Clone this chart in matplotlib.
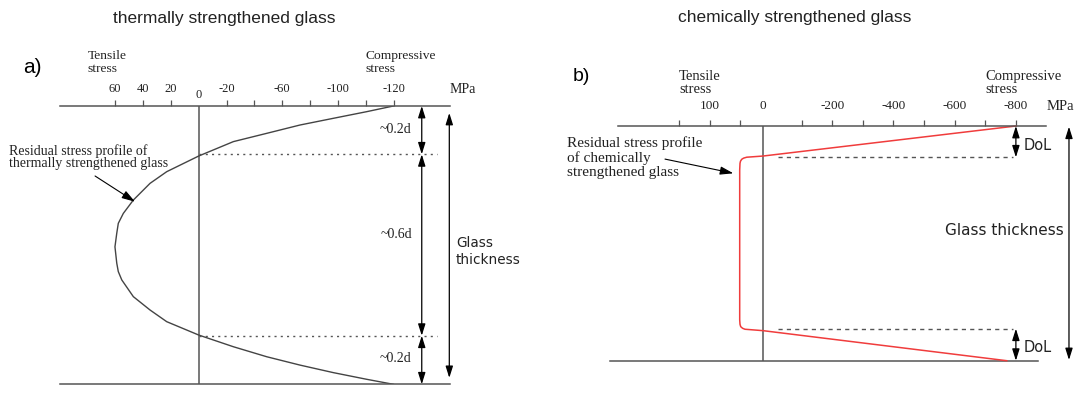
import matplotlib.pyplot as plt

# ---- data (stress in MPa on x, depth as fraction of thickness on y) ----

# a) thermally strengthened glass, parabolic profile
thermal_stress = [-139.9, -120.7, -96.7, -72.8, -48.9, -24.9, 0.0, 23.0, 35.0, 47.0, 54.2,
                  57.8, 58.9, 60.2, 58.9, 57.8, 55.3, 47.0, 35.0, 23.0, 0.0, -24.9, -48.9,
                  -72.8, -96.7, -120.7, -139.9]
thermal_depth = [0.0, 0.0204, 0.0443, 0.0683, 0.0982, 0.128, 0.1797, 0.236, 0.278, 0.338, 0.386,
                 0.4216, 0.457, 0.506, 0.565, 0.595, 0.625, 0.685, 0.733, 0.775, 0.823, 0.865, 0.901,
                 0.931, 0.958, 0.982, 1.0]
thermal_ticks = [60, 40, 20, -20, -40, -60, -80, -100, -120, -140]
thermal_ticklabels = ["60", "40", "20", "-20", "", "-60", "", "-100", "", "-120"]
thermal_zones = [0.0, 0.1736, 0.8254, 1.0]
thermal_zone_labels = ["~0.2d", "~0.6d", "~0.2d"]

# b) chemically strengthened glass
chem_stress = [-800.3, 26.5, 79.7, 90.0, 96.1, 100.0, 101.6, 102.6, 102.6, 101.6, 99.3,
               93.0, 85.3, 26.5, -770.0]
chem_depth = [0.0, 0.128, 0.133, 0.137, 0.142, 0.150, 0.159, 0.187, 0.826, 0.845, 0.855,
              0.862, 0.866, 0.872, 1.0]
chem_ticks = [300, 200, 100, -100, -200, -300, -400, -500, -600, -700, -800]
chem_ticklabels = ["", "100", "", "", "-200", "", "-400", "", "-600", "", "-800"]
chem_dol = [0.1334, 0.8637]

line_col = "#555555"
text_col = "#222222"
serif = "Liberation Serif"
sans = "Liberation Sans"
dejavu = "DejaVu Sans"

fig = plt.figure(figsize=(10.85, 3.97), dpi=100)
W, H = 1085.0, 397.0


def make_axes(x0, x1, y0, y1, xlim):
    ax = fig.add_axes([x0 / W, (H - y1) / H, (x1 - x0) / W, (y1 - y0) / H])
    ax.set_xlim(*xlim)
    ax.set_ylim(1, 0)
    for s in ["left", "right", "bottom"]:
        ax.spines[s].set_visible(False)
    ax.spines["top"].set_color(line_col)
    ax.spines["top"].set_linewidth(1.1)
    ax.xaxis.tick_top()
    ax.set_yticks([])
    ax.set_facecolor("none")
    return ax


def dim_arrow(ax, x, ya, yb, lw=0.9):
    ax.annotate("", xy=(x, yb), xytext=(x, ya), annotation_clip=False,
                arrowprops=dict(arrowstyle="<|-|>,head_length=0.7,head_width=0.22",
                                color="black", lw=lw, shrinkA=0, shrinkB=0,
                                mutation_scale=10))


# ================= panel a =================
ax1 = make_axes(60, 450, 106, 384.3, (99.7, -180.6))
ax1.spines["bottom"].set_visible(True)
ax1.spines["bottom"].set_color(line_col)
ax1.spines["bottom"].set_linewidth(1.1)
ax1.set_xticks(thermal_ticks)
ax1.set_xticklabels(thermal_ticklabels, family=serif, fontsize=9, color=text_col)
ax1.tick_params(axis="x", direction="out", length=4.3, width=0.9, color=line_col, pad=3.5)
ax1.tick_params(axis="x", bottom=False, labelbottom=False)

ax1.plot([0, 0], [0, 1], color=line_col, lw=1.1)
ax1.plot(thermal_stress, thermal_depth, color="#444444", lw=1.0)
for z in thermal_zones[1:3]:
    ax1.plot([0, -171], [z, z], color=line_col, lw=1.0, ls=(0, (1.5, 3)))
for i in range(3):
    dim_arrow(ax1, -160.3, thermal_zones[i], thermal_zones[i + 1])
    ax1.text(-153.1, [0.084, 0.461, 0.909][i], thermal_zone_labels[i], ha="right",
             va="center", family=serif, fontsize=10, color=text_col)
dim_arrow(ax1, -180.1, 0.025, 0.977)
ax1.text(-184.9, 0.523, "Glass\nthickness", ha="left", va="center", family=dejavu,
         fontsize=9.8, color=text_col, linespacing=1.25)

ax1.text(0, -0.0395, "0", ha="center", va="center", family=serif, fontsize=9, color=text_col)
ax1.text(-190, -0.0575, "MPa", ha="center", va="center", family=serif, fontsize=10, color=text_col)
ax1.text(79.6, -0.156, "Tensile\nstress", ha="left", va="center", family=serif,
         fontsize=9.7, color=text_col, linespacing=1.1)
ax1.text(-120.2, -0.156, "Compressive\nstress", ha="left", va="center", family=serif,
         fontsize=9.7, color=text_col, linespacing=1.1)
ax1.text(126.3, -0.14, "a)", ha="left", va="center", family=sans, fontsize=15, color="black")
ax1.text(-18.2, -0.316, "thermally strengthened glass", ha="center", va="center",
         family=sans, fontsize=12.5, color=text_col)
ax1.text(136.1, 0.183, "Residual stress profile of\nthermally strengthened glass",
         ha="left", va="center", family=serif, fontsize=10, color=text_col, linespacing=0.95)
ax1.annotate("", xy=(45.8, 0.344), xytext=(74.5, 0.2515), annotation_clip=False,
             arrowprops=dict(arrowstyle="-|>,head_length=0.8,head_width=0.25",
                             color="black", lw=0.8, shrinkA=0, shrinkB=0, mutation_scale=10))

# ================= panel b =================
ax2 = make_axes(617.7, 1046, 126, 360.7, (501.3, -898.4))
ax2.set_xticks(chem_ticks)
ax2.set_xticklabels(chem_ticklabels, family=serif, fontsize=9.5, color=text_col)
ax2.tick_params(axis="x", direction="out", length=4.3, width=0.9, color=line_col, pad=6)
ax2.tick_params(axis="x", bottom=False, labelbottom=False)

ax2.plot([527, -873.5], [1, 1], color=line_col, lw=1.1, clip_on=False)
ax2.plot([26.5, 26.5], [0, 1], color=line_col, lw=1.1)
ax2.plot(chem_stress, chem_depth, color="#f03c3c", lw=1.1, clip_on=False)
for z in chem_dol:
    ax2.plot([-23.5, -791.5], [z, z], color=line_col, lw=1.0, ls=(0, (3, 3)))
dim_arrow(ax2, -800, 0, chem_dol[0])
dim_arrow(ax2, -800, chem_dol[1], 1)
ax2.text(-826, 0.081, "DoL", ha="left", va="center", family=dejavu, fontsize=10.5, color=text_col)
ax2.text(-826, 0.943, "DoL", ha="left", va="center", family=dejavu, fontsize=10.5, color=text_col)
dim_arrow(ax2, -973.5, 0.003, 0.997)
ax2.text(-957, 0.447, "Glass thickness", ha="right", va="center", family=dejavu,
         fontsize=11, color=text_col)

ax2.text(26.5, -0.085, "0", ha="center", va="center", family=serif, fontsize=9.5, color=text_col)
ax2.text(-900.3, -0.085, "MPa", ha="left", va="center", family=serif, fontsize=10.5, color=text_col)
ax2.text(301, -0.184, "Tensile\nstress", ha="left", va="center", family=serif,
         fontsize=10.5, color=text_col, linespacing=1.0)
ax2.text(-701.3, -0.184, "Compressive\nstress", ha="left", va="center", family=serif,
         fontsize=10.5, color=text_col, linespacing=1.0)
ax2.text(647.4, -0.21, "b)", ha="left", va="center", family=sans, fontsize=14, color="black")
ax2.text(-76.8, -0.463, "chemically strengthened glass", ha="center", va="center",
         family=sans, fontsize=12.5, color=text_col)
ax2.text(668, 0.134, "Residual stress profile\nof chemically\nstrengthened glass",
         ha="left", va="center", family=serif, fontsize=11, color=text_col, linespacing=1.1)
ax2.annotate("", xy=(123.5, 0.2015), xytext=(346.7, 0.141), annotation_clip=False,
             arrowprops=dict(arrowstyle="-|>,head_length=0.8,head_width=0.25",
                             color="black", lw=0.8, shrinkA=0, shrinkB=0, mutation_scale=10))

fig.savefig("out.png", dpi=100)
